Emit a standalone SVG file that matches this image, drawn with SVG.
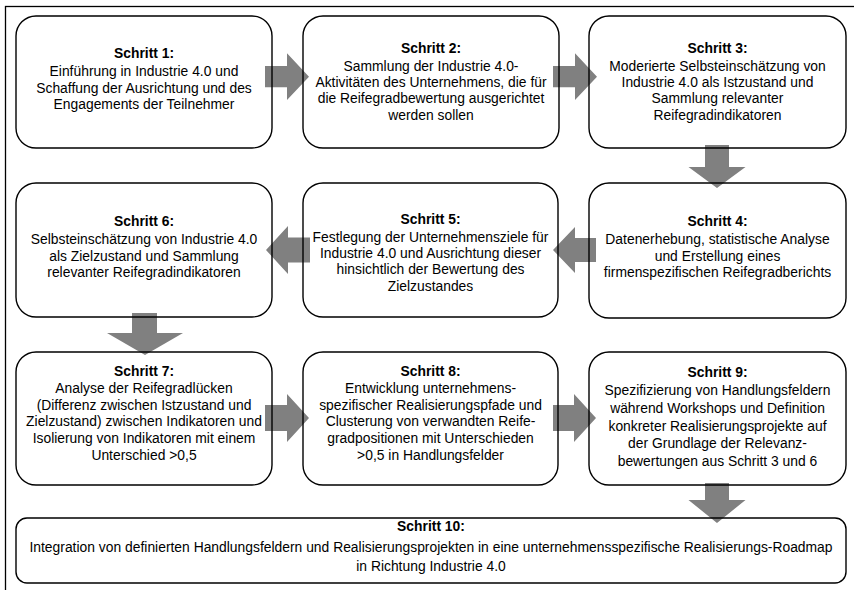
<svg xmlns="http://www.w3.org/2000/svg" width="854" height="590" viewBox="0 0 854 590">
  <style>
    .frame { fill: none; stroke: #000; stroke-width: 1.3; }
    .box { fill: none; stroke: #000; stroke-width: 1.4; }
    .arrow { fill: #808080; stroke: none; }
    text { font-family: "Liberation Sans", Arial, sans-serif; font-size: 15px; fill: #000; text-anchor: middle; }
    .head { font-weight: bold; }
  </style>

  <!-- outer frame (right and bottom edges run past the canvas) -->
  <rect class="frame" x="5.5" y="6.5" width="870" height="620"/>

  <!-- block arrows between the steps -->
  <g id="connectors">
    <polygon class="arrow" points="265,66 287,66 287,53.3 309,76.7 287,100 287,87.3 265,87.3"/>
    <polygon class="arrow" points="553,66 575,66 575,53.3 597,76.7 575,100 575,87.3 553,87.3"/>
    <polygon class="arrow" points="705,145 729,145 729,167 745.5,167 717,188 688.5,167 705,167"/>
    <polygon class="arrow" points="596,238 575,238 575,227 553,250 575,273 575,262 596,262"/>
    <polygon class="arrow" points="310,237.5 288,237.5 288,226 266,250 288,274 288,262.5 310,262.5"/>
    <polygon class="arrow" points="132,313 157,313 157,333 183,333 145,355 107,333 132,333"/>
    <polygon class="arrow" points="265,405 287,405 287,394 309,418 287,442 287,431 265,431"/>
    <polygon class="arrow" points="553,405 574,405 574,394 596,418 574,442 574,431 553,431"/>
    <polygon class="arrow" points="705,483 729,483 729,500 745.5,500 717,523 688.5,500 705,500"/>
  </g>

  <!-- text is set slightly condensed: each label is centred on its box and squeezed horizontally -->
  <g id="step1">
    <rect class="box" x="16" y="16" width="256" height="132" rx="20"/>
    <text transform="translate(144,0) scale(0.925,1)"><tspan class="head" x="0" y="58.5">Schritt 1:</tspan><tspan x="0" y="76.3">Einführung in Industrie 4.0 und</tspan><tspan x="0" y="92.6">Schaffung der Ausrichtung und des</tspan><tspan x="0" y="108.9">Engagements der Teilnehmer</tspan></text>
  </g>

  <g id="step2">
    <rect class="box" x="303" y="16" width="256" height="132" rx="20"/>
    <text transform="translate(431,0) scale(0.925,1)"><tspan class="head" x="0" y="53">Schritt 2:</tspan><tspan x="0" y="70.8">Sammlung der Industrie 4.0-</tspan><tspan x="0" y="87.1">Aktivitäten des Unternehmens, die für</tspan><tspan x="0" y="103.4">die Reifegradbewertung ausgerichtet</tspan><tspan x="0" y="119.7">werden sollen</tspan></text>
  </g>

  <g id="step3">
    <rect class="box" x="589" y="16" width="257" height="132" rx="20"/>
    <text transform="translate(717.5,0) scale(0.925,1)"><tspan class="head" x="0" y="53">Schritt 3:</tspan><tspan x="0" y="70.8">Moderierte Selbsteinschätzung von</tspan><tspan x="0" y="87.1">Industrie 4.0 als Istzustand und</tspan><tspan x="0" y="103.4">Sammlung relevanter</tspan><tspan x="0" y="119.7">Reifegradindikatoren</tspan></text>
  </g>

  <g id="step4">
    <rect class="box" x="589" y="183" width="257" height="135" rx="20"/>
    <text transform="translate(717.5,0) scale(0.925,1)"><tspan class="head" x="0" y="226.5">Schritt 4:</tspan><tspan x="0" y="244.3">Datenerhebung, statistische Analyse</tspan><tspan x="0" y="260.6">und Erstellung eines</tspan><tspan x="0" y="276.9">firmenspezifischen Reifegradberichts</tspan></text>
  </g>

  <g id="step5">
    <rect class="box" x="303" y="183" width="255" height="134" rx="20"/>
    <text transform="translate(430.5,0) scale(0.925,1)"><tspan class="head" x="0" y="224">Schritt 5:</tspan><tspan x="0" y="241.8">Festlegung der Unternehmensziele für</tspan><tspan x="0" y="258.1">Industrie 4.0 und Ausrichtung dieser</tspan><tspan x="0" y="274.4">hinsichtlich der Bewertung des</tspan><tspan x="0" y="290.7">Zielzustandes</tspan></text>
  </g>

  <g id="step6">
    <rect class="box" x="16" y="183" width="256" height="134" rx="20"/>
    <text transform="translate(144,0) scale(0.925,1)"><tspan class="head" x="0" y="226.5">Schritt 6:</tspan><tspan x="0" y="244.3">Selbsteinschätzung von Industrie 4.0</tspan><tspan x="0" y="260.6">als Zielzustand und Sammlung</tspan><tspan x="0" y="276.9">relevanter Reifegradindikatoren</tspan></text>
  </g>

  <g id="step7">
    <rect class="box" x="16" y="352" width="256" height="133" rx="20"/>
    <text transform="translate(144,0) scale(0.925,1)"><tspan class="head" x="0" y="376">Schritt 7:</tspan><tspan x="0" y="393">Analyse der Reifegradlücken</tspan><tspan x="0" y="409.7">(Differenz zwischen Istzustand und</tspan><tspan x="0" y="426.4">Zielzustand) zwischen Indikatoren und</tspan><tspan x="0" y="443.1">Isolierung von Indikatoren mit einem</tspan><tspan x="0" y="459.8">Unterschied &gt;0,5</tspan></text>
  </g>

  <g id="step8">
    <rect class="box" x="303" y="352" width="255" height="133" rx="20"/>
    <text transform="translate(430.5,0) scale(0.925,1)"><tspan class="head" x="0" y="376">Schritt 8:</tspan><tspan x="0" y="393">Entwicklung unternehmens-</tspan><tspan x="0" y="409.7">spezifischer Realisierungspfade und</tspan><tspan x="0" y="426.4">Clusterung von verwandten Reife-</tspan><tspan x="0" y="443.1">gradpositionen mit Unterschieden</tspan><tspan x="0" y="459.8">&gt;0,5 in Handlungsfelder</tspan></text>
  </g>

  <g id="step9">
    <rect class="box" x="589" y="352" width="257" height="133" rx="20"/>
    <text transform="translate(717.5,0) scale(0.925,1)"><tspan class="head" x="0" y="377">Schritt 9:</tspan><tspan x="0" y="395">Spezifizierung von Handlungsfeldern</tspan><tspan x="0" y="412.8">während Workshops und Definition</tspan><tspan x="0" y="430.6">konkreter Realisierungsprojekte auf</tspan><tspan x="0" y="448.4">der Grundlage der Relevanz-</tspan><tspan x="0" y="466.2">bewertungen aus Schritt 3 und 6</tspan></text>
  </g>

  <g id="step10">
    <rect class="box" x="16" y="518" width="830" height="65" rx="11"/>
    <text transform="translate(431,0) scale(0.925,1)"><tspan class="head" x="0" y="531.5">Schritt 10:</tspan><tspan x="0" y="552">Integration von definierten Handlungsfeldern und Realisierungsprojekten in eine unternehmensspezifische Realisierungs-Roadmap</tspan><tspan x="0" y="571">in Richtung Industrie 4.0</tspan></text>
  </g>
</svg>
